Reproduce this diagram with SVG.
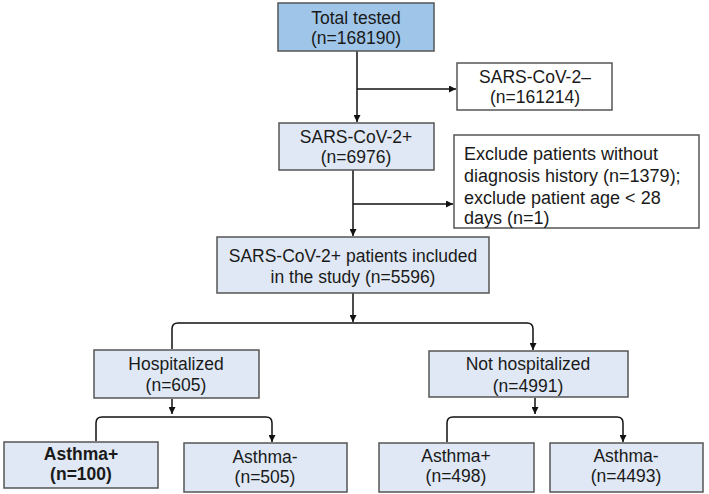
<svg xmlns="http://www.w3.org/2000/svg" width="709" height="494" viewBox="0 0 709 494">
<defs>
<marker id="ah" markerUnits="userSpaceOnUse" markerWidth="7" markerHeight="7" refX="7" refY="3.5" orient="auto">
<path d="M0,0 L7,3.5 L0,7 z" fill="#111"/>
</marker>
<style>
.box{fill:#dfe8f4;stroke:#555;stroke-width:1.5}
.top{fill:#9fc5e8;stroke:#555;stroke-width:1.5}
.white{fill:#fff;stroke:#555;stroke-width:1.5}
text{font-family:"Liberation Sans",Arial,sans-serif;font-size:17.5px;fill:#1a1a1a}
.c{text-anchor:middle}
.b{font-weight:bold}
.big{font-size:18px}
.ln{fill:none;stroke:#111;stroke-width:1.5}
</style>
</defs>
<rect width="709" height="494" fill="#fff"/>
<g id="connectors">
<line class="ln" x1="357" y1="51" x2="357" y2="122" marker-end="url(#ah)"/>
<line class="ln" x1="357" y1="89" x2="456" y2="89" marker-end="url(#ah)"/>
<line class="ln" x1="353" y1="170" x2="353" y2="236" marker-end="url(#ah)"/>
<line class="ln" x1="353" y1="204" x2="453" y2="204" marker-end="url(#ah)"/>
<line class="ln" x1="353" y1="293" x2="353" y2="322" marker-end="url(#ah)"/>
<path class="ln" d="M172,349 L172,329 Q172,323 178,323 L527,323 Q533,323 533,329 L533,350" marker-end="url(#ah)"/>
<line class="ln" x1="172" y1="399" x2="172" y2="414" marker-end="url(#ah)"/>
<path class="ln" d="M96,441 L96,423 Q96,417 102,417 L266,417 Q272,417 272,423 L272,442" marker-end="url(#ah)"/>
<line class="ln" x1="535" y1="398" x2="535" y2="414" marker-end="url(#ah)"/>
<path class="ln" d="M447,442 L447,423 Q447,417 453,417 L617,417 Q623,417 623,423 L623,442" marker-end="url(#ah)"/>
</g>
<g id="total">
<rect class="top" x="278" y="3" width="156" height="48"/>
<text class="c" x="356" y="24">Total tested</text>
<text class="c" x="356" y="44">(n=168190)</text>
</g>
<g id="neg">
<rect class="white" x="457" y="63" width="155" height="47"/>
<text class="c" x="535" y="83">SARS-CoV-2–</text>
<text class="c" x="535" y="103">(n=161214)</text>
</g>
<g id="pos">
<rect class="box" x="279" y="123" width="155" height="47"/>
<text class="c" x="356" y="143">SARS-CoV-2+</text>
<text class="c" x="356" y="163">(n=6976)</text>
</g>
<g id="exclude">
<rect class="white" x="454" y="135" width="245" height="93"/>
<text class="big" x="464" y="160">Exclude patients without</text>
<text class="big" x="464" y="182">diagnosis history (n=1379);</text>
<text class="big" x="464" y="204">exclude patient age &lt; 28</text>
<text class="big" x="464" y="224">days (n=1)</text>
</g>
<g id="study">
<rect class="box" x="217" y="237" width="272" height="56"/>
<text class="c" x="353" y="262">SARS-CoV-2+ patients included</text>
<text class="c" x="353" y="283">in the study (n=5596)</text>
</g>
<g id="hosp">
<rect class="box" x="94" y="350" width="165" height="48"/>
<text class="c" x="176" y="370">Hospitalized</text>
<text class="c" x="176" y="391">(n=605)</text>
</g>
<g id="nothosp">
<rect class="box" x="429" y="351" width="199" height="46"/>
<text class="c" x="528" y="370">Not hospitalized</text>
<text class="c" x="528" y="392">(n=4991)</text>
</g>
<g id="h-asthma-pos">
<rect class="box" x="4" y="442" width="154" height="46"/>
<text class="c b" x="81" y="460">Asthma+</text>
<text class="c b" x="81" y="480">(n=100)</text>
</g>
<g id="h-asthma-neg">
<rect class="box" x="184" y="443" width="163" height="49"/>
<text class="c" x="265" y="463">Asthma-</text>
<text class="c" x="265" y="483">(n=505)</text>
</g>
<g id="n-asthma-pos">
<rect class="box" x="379" y="443" width="155" height="49"/>
<text class="c" x="456" y="462">Asthma+</text>
<text class="c" x="456" y="482">(n=498)</text>
</g>
<g id="n-asthma-neg">
<rect class="box" x="550" y="443" width="153" height="49"/>
<text class="c" x="626" y="462">Asthma-</text>
<text class="c" x="626" y="482">(n=4493)</text>
</g>
</svg>
